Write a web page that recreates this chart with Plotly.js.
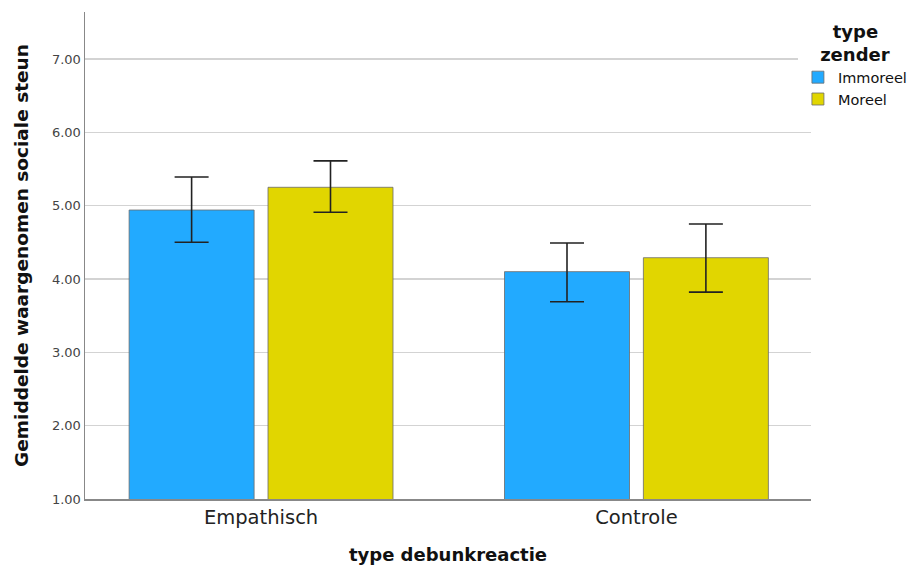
<!DOCTYPE html>
<html><head><meta charset="utf-8">
<script src="https://cdn.plot.ly/plotly-3.0.1.min.js"></script>
<style>body{margin:0;background:#fff}#c{width:911px;height:568px}</style>
</head><body><div id="c"></div>
<script>
const categories = ["Empathisch", "Controle"];
const seriesNames = ["Immoreel", "Moreel"];
const immoreelMean = [4.94, 4.10];
const immoreelUpper = [5.39, 4.49];
const immoreelLower = [4.50, 3.69];
const moreelMean = [5.25, 4.29];
const moreelUpper = [5.61, 4.75];
const moreelLower = [4.91, 3.82];
const yTicks = [1, 2, 3, 4, 5, 6, 7];
const yTickLabels = ["1.00", "2.00", "3.00", "4.00", "5.00", "6.00", "7.00"];

function mk(name, mean, up, lo, color) {
  return {
    type: 'bar', name: name, x: categories, y: mean,
    marker: {color: color, line: {color: '#6b6b6b', width: 0.8}},
    error_y: {type: 'data', symmetric: false,
      array: mean.map((m, i) => up[i] - m),
      arrayminus: mean.map((m, i) => m - lo[i]),
      color: '#222', thickness: 1.6, width: 17}
  };
}
const data = [
  mk(seriesNames[0], immoreelMean, immoreelUpper, immoreelLower, '#22AAFF'),
  mk(seriesNames[1], moreelMean, moreelUpper, moreelLower, '#E1D600')
];
const font = "DejaVu Sans, sans-serif";
const layout = {
  width: 911, height: 568,
  margin: {l: 85, r: 100, t: 12, b: 69, autoexpand: false},
  paper_bgcolor: '#fff', plot_bgcolor: '#fff',
  barmode: 'group', bargap: 0.26, bargroupgap: 0.1,
  font: {family: font, color: '#222'},
  xaxis: {
    range: [-0.469, 1.465], showgrid: false, showline: true, linecolor: '#888', linewidth: 1.5,
    ticks: '', tickfont: {size: 19.5, color: '#222'},
    title: {text: '<b>type debunkreactie</b>', font: {size: 18, color: '#111'}, standoff: 20}
  },
  yaxis: {
    range: [1, 7.64], tickvals: yTicks, ticktext: yTickLabels,
    showgrid: true, gridcolor: '#d3d3d3', gridwidth: 1.5, zeroline: false,
    showline: true, linecolor: '#888', linewidth: 1.5, ticks: '',
    tickfont: {size: 13, color: '#444'},
    title: {text: '<b>Gemiddelde waargenomen sociale steun</b>', font: {size: 18.5, color: '#111'}, standoff: 18}
  },
  legend: {
    x: 0.982, xanchor: 'left', y: 0.995, yanchor: 'top',
    title: {text: '<b>&nbsp;&nbsp;type<br>zender</b>', side: 'top center', font: {size: 18, color: '#111'}},
    font: {size: 14.5, color: '#111'}, tracegroupgap: 0, itemwidth: 30
  },
  showlegend: true
};
Plotly.newPlot('c', data, layout, {displayModeBar: false, staticPlot: true});
</script></body></html>
